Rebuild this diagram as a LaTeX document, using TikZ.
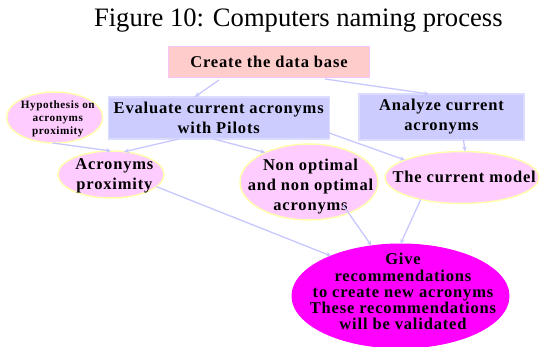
\documentclass[tikz,border=0pt]{standalone}
\usepackage{fontspec}
\setmainfont{Liberation Serif}
\newfontfamily\lsfont[LetterSpace=5]{Liberation Serif}
\usetikzlibrary{shapes.geometric,arrows.meta}
\definecolor{createfill}{HTML}{FFCCCC}
\definecolor{createrim}{HTML}{F5C6F5}
\definecolor{boxblue}{HTML}{CCCCFF}
\definecolor{boxrim}{HTML}{DCDCFF}
\definecolor{ovalpink}{HTML}{FFCCFF}
\definecolor{ovalrim}{HTML}{FFFFB0}
\definecolor{givefill}{HTML}{FF00FF}
\definecolor{arrowc}{HTML}{C8C8FF}
\begin{document}
\begin{tikzpicture}[x=1pt,y=-1pt,
  lbl/.style={font=\lsfont\bfseries\fontsize{16.5}{20}\selectfont, align=center, inner sep=0pt, text=black},
  lblsmall/.style={lbl, font=\lsfont\bfseries\fontsize{11.2}{13.4}\selectfont},
  lblgive/.style={lbl, font=\lsfont\bfseries\fontsize{16.5}{16.3}\selectfont},
  rbox/.style={rectangle, inner sep=0pt, outer sep=0pt, line width=1.2pt},
  oval/.style={ellipse, inner sep=0pt, outer sep=0pt, fill=ovalpink, draw=ovalrim, line width=1.5pt},
  conn/.style={draw=arrowc, line width=1.3pt, -{Stealth[length=5pt,width=4.5pt]}},
  titletext/.style={font=\fontsize{26.6}{30}\selectfont, inner sep=0pt, anchor=base}]
\useasboundingbox (0,0) rectangle (540,347);
\fill[white] (0,0) rectangle (540,347);

\node[titletext] (title) at (298.3,27) {Figure 10: Computers naming process};

\node[rbox, fill=createfill, draw=createrim, minimum width=201pt, minimum height=31pt, lbl] (create) at (269,62) {Create the data base};
\node[rbox, fill=boxblue, draw=boxrim, minimum width=221pt, minimum height=42pt, lbl] (eval) at (218.7,118) {Evaluate current acronyms\\with Pilots};
\node[rbox, fill=boxblue, draw=boxrim, minimum width=165pt, minimum height=46pt, lbl] (analyze) at (441.5,117) {Analyze current\\acronyms};

\node[oval, minimum width=96pt, minimum height=51pt] (hyp) at (54.7,117.5) {};
\node[lblsmall] (hypT) at (57.8,118.8) {Hypothesis on\\acronyms\\proximity};

\node[oval, minimum width=106pt, minimum height=47pt] (ap) at (111,174.5) {};
\node[lbl] (apT) at (114.4,176.3) {Acronyms\\proximity};

\node[oval, minimum width=138pt, minimum height=76pt] (nonopt) at (309,182) {};
\node[lbl] (nonoptT) at (310.5,186.5) {Non optimal\\and non optimal\\acronyms};

\node[oval, minimum width=154pt, minimum height=52pt] (cm) at (462,177.5) {};
\node[lbl] (cmT) at (464.2,176.4) {The current model};

\node[ellipse, inner sep=0pt, outer sep=0pt, fill=givefill, draw=givefill, line width=1pt, minimum width=217pt, minimum height=104pt] (give) at (400.5,296) {};
\node[lblgive] (giveT) at (403,291.7) {Give\\recommendations\\to create new acronyms\\These recommendations\\will be validated};

\draw[conn] ([xshift=-50pt,yshift=-2.5pt]create.south) -- ([xshift=-24pt]eval.north);
\draw[conn] ([xshift=56pt,yshift=-1.5pt]create.south) -- ([xshift=-12.5pt]analyze.north);
\draw[conn] (hyp.265) -- (ap.north);
\draw[conn] ([xshift=-40pt]eval.south) -- (ap.60);
\draw[conn] ([xshift=-5pt]eval.south) -- (nonopt.146);
\draw[conn] ([yshift=-15pt]eval.east) -- (cm.163);
\draw[conn] ([xshift=22pt]analyze.south) -- ([xshift=3pt]cm.north);
\draw[conn] (ap.-15) -- (give.150);
\draw[conn] ([xshift=34pt,yshift=-23pt]nonopt.center) -- (give.120);
\draw[conn] (cm.208) -- (give.north);
\end{tikzpicture}
\end{document}
